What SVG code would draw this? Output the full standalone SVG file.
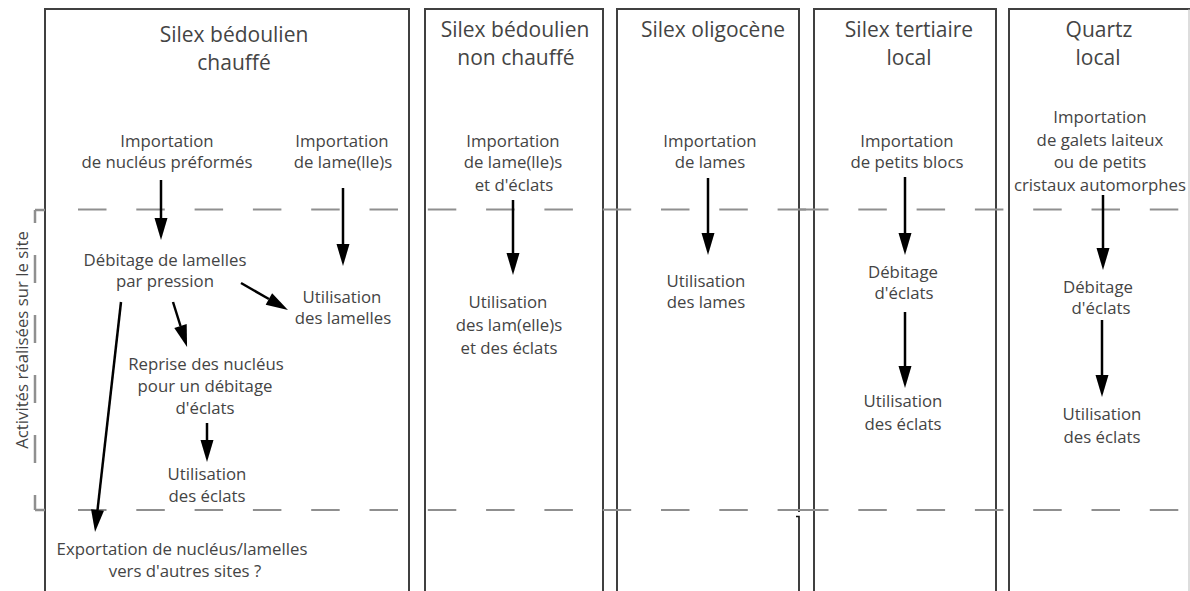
<svg xmlns="http://www.w3.org/2000/svg" width="1190" height="591" viewBox="0 0 1190 591">
<style>
text{font-family:"Open Sans","Liberation Sans",sans-serif;fill:#444;text-anchor:middle}
.t{font-size:21px}
.b{font-size:16.8px}
.box{fill:none;stroke:#404040;stroke-width:2}
.dash{fill:none;stroke:#8f8f8f;stroke-width:2.2;stroke-dasharray:28.5 29.8}
.arr{fill:none;stroke:#000;stroke-width:2.5;marker-end:url(#ah)}
</style>
<defs>
<marker id="ah" markerUnits="userSpaceOnUse" markerWidth="22" markerHeight="14" refX="0" refY="6.5" orient="auto" overflow="visible">
<path d="M0,0 L22,6.5 L0,13 z" fill="#000"/>
</marker>
</defs>
<rect width="1190" height="591" fill="#fff"/>

<g id="frames">
<path class="box" d="M45,600 V9 H409 V600"/>
<path class="box" d="M425,600 V9 H603 V600"/>
<path class="box" d="M617,513 V9 H799 V512"/>
<path d="M617,513 V600 M796,516.5 H799 V600" fill="none" stroke="#111" stroke-width="1.6"/>
<path class="box" d="M814,600 V9 H996 V600"/>
<path class="box" d="M1009,600 V9 H1190"/>
<path d="M1189,9 V600" fill="none" stroke="#bbb" stroke-width="1"/>
</g>

<g id="site-zone">
<path class="dash" d="M78,209.5 H807"/>
<path class="dash" d="M800,209.5 H1179"/>
<path class="dash" d="M78,510 H807"/>
<path class="dash" d="M800,510 H1179"/>
<path d="M35,210 V510" fill="none" stroke="#8f8f8f" stroke-width="2.5" stroke-dasharray="13 32 28 32 28 32 28 32 28 32 15"/>
<path d="M35,210 H45 M35,510 H45" fill="none" stroke="#8f8f8f" stroke-width="2.5"/>
<text class="b" transform="translate(28,340) rotate(-90)">Activités réalisées sur le site</text>
</g>

<g id="titles">
<g id="title-1"><text class="t" x="234" y="42">Silex bédoulien<tspan x="234" dy="28">chauffé</tspan></text></g>
<g id="title-2"><text class="t" x="515" y="37">Silex bédoulien<tspan x="516" dy="28">non chauffé</tspan></text></g>
<g id="title-3"><text class="t" x="713" y="37">Silex oligocène</text></g>
<g id="title-4"><text class="t" x="909" y="37">Silex tertiaire<tspan x="909" dy="28">local</tspan></text></g>
<g id="title-5"><text class="t" x="1099" y="37">Quartz<tspan x="1098" dy="28">local</tspan></text></g>
</g>

<g id="n1-import-nucleus"><text class="b" x="167" y="146.5">Importation<tspan x="167" dy="21">de nucléus préformés</tspan></text></g>
<g id="n1-import-lames"><text class="b" x="342" y="146.5">Importation<tspan x="343" dy="21">de lame(lle)s</tspan></text></g>
<g id="n1-debitage"><text class="b" x="165" y="265.5">Débitage de lamelles<tspan x="165" dy="21">par pression</tspan></text></g>
<g id="n1-util-lamelles"><text class="b" x="342" y="303">Utilisation<tspan x="343" dy="21">des lamelles</tspan></text></g>
<g id="n1-reprise"><text class="b" x="206" y="370">Reprise des nucléus<tspan x="205" dy="22">pour un débitage</tspan><tspan x="205" dy="22">d'éclats</tspan></text></g>
<g id="n1-util-eclats"><text class="b" x="207" y="480">Utilisation<tspan x="207" dy="22">des éclats</tspan></text></g>
<g id="n1-export"><text class="b" x="182" y="555">Exportation de nucléus/lamelles<tspan x="185" dy="22">vers d'autres sites ?</tspan></text></g>

<g id="n2-import"><text class="b" x="513" y="147">Importation<tspan x="513" dy="21">de lame(lle)s</tspan><tspan x="514" dy="23">et d'éclats</tspan></text></g>
<g id="n2-util"><text class="b" x="508" y="308">Utilisation<tspan x="509" dy="23">des lam(elle)s</tspan><tspan x="509" dy="23">et des éclats</tspan></text></g>

<g id="n3-import"><text class="b" x="710" y="146.5">Importation<tspan x="710" dy="21">de lames</tspan></text></g>
<g id="n3-util"><text class="b" x="706" y="287">Utilisation<tspan x="706" dy="21">des lames</tspan></text></g>

<g id="n4-import"><text class="b" x="907" y="147">Importation<tspan x="907" dy="21">de petits blocs</tspan></text></g>
<g id="n4-debitage"><text class="b" x="903" y="278">Débitage<tspan x="904" dy="21">d'éclats</tspan></text></g>
<g id="n4-util"><text class="b" x="903" y="407">Utilisation<tspan x="903" dy="23">des éclats</tspan></text></g>

<g id="n5-import"><text class="b" x="1100" y="123">Importation<tspan x="1100" dy="23">de galets laiteux</tspan><tspan x="1100" dy="22">ou de petits</tspan><tspan x="1100" dy="23">cristaux automorphes</tspan></text></g>
<g id="n5-debitage"><text class="b" x="1098" y="293">Débitage<tspan x="1101" dy="21">d'éclats</tspan></text></g>
<g id="n5-util"><text class="b" x="1102" y="420">Utilisation<tspan x="1102" dy="23">des éclats</tspan></text></g>

<g id="connectors">
<path class="arr" d="M161,180 V218"/>
<path class="arr" d="M343,188 V244"/>
<path class="arr" d="M241,283 L268.9,299"/>
<path class="arr" d="M173,302 L180.5,326"/>
<path class="arr" d="M121,302 L97.5,510.1"/>
<path class="arr" d="M207,423 V440"/>
<path class="arr" d="M513,200 V253"/>
<path class="arr" d="M708,178 V233"/>
<path class="arr" d="M905,177 V233"/>
<path class="arr" d="M905,312 V366"/>
<path class="arr" d="M1103,195 V248"/>
<path class="arr" d="M1102,320 V375"/>
</g>
</svg>
